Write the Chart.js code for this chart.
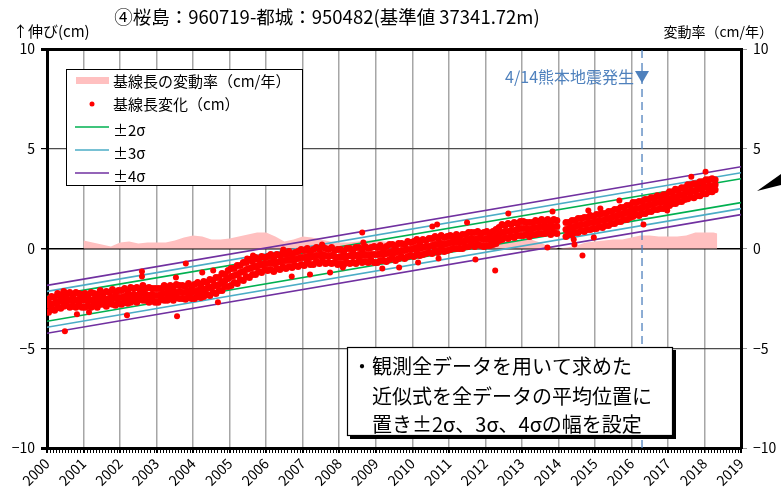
<!DOCTYPE html>
<html lang="ja">
<head>
<meta charset="UTF-8">
<title>桜島-都城 基線長変化</title>
<style>
  body { margin: 0; background: #fff; }
  canvas { display: block; }
</style>
</head>
<body>
<canvas id="baseline" width="781" height="496"></canvas>
<script src="https://cdn.jsdelivr.net/npm/chart.js"></script>
<script>
// monthly band of daily solutions, Jan 2000 .. Apr 2018 (cm)
const monthStart = 2000;
const bandMid = [
  -2.85,-2.8,-2.75,-2.7,-2.65,-2.6,-2.55,-2.6,-2.65,-2.6,-2.55,-2.6,
  -2.6,-2.65,-2.6,-2.55,-2.6,-2.5,-2.5,-2.55,-2.5,-2.45,-2.5,-2.45,
  -2.45,-2.4,-2.45,-2.35,-2.3,-2.35,-2.3,-2.25,-2.3,-2.35,-2.3,-2.35,
  -2.35,-2.3,-2.25,-2.3,-2.2,-2.25,-2.2,-2.15,-2.2,-2.2,-2.15,-2.2,
  -2.15,-2.1,-2.15,-2.05,-2.0,-1.95,-1.9,-1.85,-1.8,-1.7,-1.6,-1.5,
  -1.4,-1.35,-1.3,-1.2,-1.15,-1.05,-1.0,-0.95,-0.9,-0.85,-0.8,-0.75,
  -0.75,-0.7,-0.75,-0.7,-0.65,-0.6,-0.6,-0.55,-0.6,-0.55,-0.5,-0.45,
  -0.45,-0.4,-0.45,-0.4,-0.35,-0.35,-0.3,-0.35,-0.4,-0.35,-0.4,-0.45,
  -0.4,-0.45,-0.4,-0.35,-0.4,-0.35,-0.3,-0.35,-0.3,-0.35,-0.3,-0.3,
  -0.3,-0.25,-0.3,-0.25,-0.2,-0.15,-0.2,-0.15,-0.1,-0.1,-0.05,-0.05,
  0.0,0.05,0.0,0.05,0.1,0.1,0.15,0.2,0.2,0.25,0.2,0.25,
  0.3,0.3,0.35,0.3,0.35,0.4,0.45,0.5,0.45,0.5,0.5,0.45,
  0.5,0.45,0.5,0.6,0.7,0.8,0.85,0.85,0.9,0.9,0.95,1.0,
  1.0,1.0,0.95,1.0,1.05,1.05,1.1,1.05,1.1,1.05,1.1,1.1,
  null,null,0.95,1.0,1.05,1.1,1.15,1.2,1.2,1.25,1.3,1.3,
  1.35,1.4,1.4,1.45,1.5,1.55,1.6,1.65,1.7,1.75,1.8,1.85,
  1.95,2.0,2.0,2.05,2.1,2.15,2.2,2.25,2.3,2.3,2.35,2.4,
  2.5,2.55,2.6,2.65,2.7,2.75,2.85,2.9,2.9,2.95,3.0,3.05,
  3.1,3.15,3.15,3.2
];
const bandHigh = [
  -2.55,-2.4,-2.45,-2.25,-2.4,-2.15,-2.3,-2.2,-2.4,-2.2,-2.25,-2.3,
  -2.25,-2.35,-2.2,-2.25,-2.3,-2.1,-2.25,-2.15,-2.2,-2.05,-2.2,-2.1,
  -2.1,-2.0,-2.15,-1.95,-2.0,-1.95,-2.05,-1.85,-2.0,-1.95,-2.0,-2.0,
  -2.0,-2.0,-1.85,-2.0,-1.85,-1.95,-1.8,-1.85,-1.85,-1.9,-1.75,-1.9,
  -1.8,-1.7,-1.85,-1.65,-1.7,-1.55,-1.6,-1.45,-1.45,-1.25,-1.3,-1.1,
  -1.0,-1.0,-0.85,-0.85,-0.7,-0.7,-0.55,-0.65,-0.45,-0.55,-0.4,-0.45,
  -0.4,-0.3,-0.45,-0.3,-0.35,-0.2,-0.3,-0.15,-0.3,-0.2,-0.15,-0.05,
  -0.1,0.0,-0.15,-0.05,0.05,-0.05,0.1,0.0,-0.05,0.05,-0.1,-0.05,
  -0.05,-0.15,0.0,0.0,-0.1,0.05,0.05,-0.05,0.1,0.0,0.05,0.1,
  0.05,0.15,0.0,0.1,0.2,0.2,0.1,0.25,0.25,0.2,0.35,0.3,
  0.35,0.45,0.3,0.45,0.4,0.5,0.5,0.6,0.5,0.65,0.55,0.6,
  0.65,0.55,0.7,0.6,0.7,0.7,0.8,0.8,0.8,0.85,0.75,0.8,
  0.85,0.75,0.85,0.95,1.05,1.2,1.15,1.25,1.2,1.3,1.25,1.35,
  1.35,1.3,1.3,1.3,1.4,1.35,1.45,1.35,1.45,1.35,1.45,1.4,
  null,null,1.3,1.3,1.4,1.4,1.5,1.5,1.55,1.55,1.65,1.6,
  1.7,1.7,1.75,1.75,1.85,1.85,1.95,1.95,2.05,2.05,2.15,2.15,
  2.3,2.3,2.35,2.35,2.45,2.45,2.55,2.55,2.65,2.6,2.7,2.7,
  2.85,2.85,2.95,2.95,3.05,3.05,3.2,3.2,3.25,3.25,3.35,3.35,
  3.45,3.45,3.5,3.45
];
const bandLow = [
  -3.2,-3.05,-3.1,-2.95,-3.0,-2.9,-2.85,-2.95,-2.9,-2.95,-2.8,-2.95,
  -2.95,-2.9,-2.95,-2.8,-2.95,-2.8,-2.8,-2.9,-2.75,-2.8,-2.85,-2.75,
  -2.8,-2.7,-2.75,-2.7,-2.6,-2.7,-2.55,-2.6,-2.6,-2.7,-2.55,-2.7,
  -2.7,-2.55,-2.6,-2.6,-2.5,-2.6,-2.45,-2.5,-2.5,-2.55,-2.45,-2.5,
  -2.5,-2.4,-2.45,-2.4,-2.3,-2.35,-2.2,-2.25,-2.1,-2.1,-1.9,-1.9,
  -1.85,-1.7,-1.75,-1.55,-1.6,-1.4,-1.45,-1.3,-1.3,-1.15,-1.2,-1.05,
  -1.1,-1.05,-1.15,-1.0,-1.05,-0.9,-1.0,-0.9,-0.95,-0.85,-0.9,-0.8,
  -0.85,-0.7,-0.8,-0.8,-0.65,-0.75,-0.6,-0.75,-0.7,-0.75,-0.7,-0.8,
  -0.75,-0.8,-0.7,-0.75,-0.7,-0.75,-0.6,-0.7,-0.65,-0.7,-0.6,-0.7,
  -0.7,-0.6,-0.6,-0.65,-0.55,-0.45,-0.6,-0.5,-0.4,-0.5,-0.4,-0.35,
  -0.4,-0.25,-0.35,-0.3,-0.25,-0.2,-0.25,-0.1,-0.2,-0.05,-0.15,-0.1,
  -0.05,0.0,0.0,0.0,0.0,0.1,0.1,0.2,0.1,0.2,0.15,0.1,
  0.15,0.15,0.2,0.25,0.4,0.45,0.55,0.5,0.6,0.55,0.65,0.65,
  0.65,0.7,0.6,0.7,0.7,0.75,0.75,0.75,0.8,0.7,0.8,0.75,
  null,null,0.6,0.7,0.7,0.8,0.8,0.9,0.85,0.95,0.95,1.0,
  1.0,1.1,1.05,1.15,1.15,1.25,1.25,1.35,1.35,1.45,1.45,1.55,
  1.6,1.7,1.65,1.75,1.75,1.85,1.85,1.95,1.95,2.0,2.0,2.1,
  2.15,2.25,2.25,2.35,2.35,2.45,2.5,2.6,2.55,2.65,2.65,2.75,
  2.75,2.85,2.85,2.95
];

// isolated points outside the dense band
const outlierYears = [2000.49, 2000.82, 2001.15, 2002.19, 2002.6, 2002.6, 2003.53, 2003.56, 2003.8, 2004.25,
  2004.55, 2004.68, 2005.48, 2005.64, 2006.7, 2007.2, 2007.75, 2008.1, 2009.18, 2007.53,
  2008.66, 2008.63, 2006.47, 2012.27, 2012.63, 2013.84, 2013.7, 2011.5, 2010.68, 2010.55,
  2010.72, 2009.64, 2010.16, 2011.73, 2014.66, 2015.67, 2015.15, 2014.82, 2016.33, 2016.98,
  2017.2, 2017.64, 2018.03, 2014.44, 2014.97, 2014.42];
const outlierValues = [-4.15, -3.3, -3.2, -3.35, -1.15, -1.4, -1.45, -3.4, -0.75, -1.2,
  -1.1, -2.7, -0.5, -0.35, -1.4, -1.3, -1.2, -0.95, -1.0, 0.2,
  0.3, 0.8, -0.05, -1.1, 1.75, 1.85, 0.05, 1.3, 1.2, 1.1,
  -0.5, -0.95, -0.7, -0.55, -0.35, 2.4, 2.0, 1.9, 1.2, 1.9,
  3.0, 3.6, 3.85, 0.2, 0.55, 0.45];

// rate of change (cm/yr), right axis
const rateYears = [2001.0, 2001.0, 2001.25, 2001.5, 2001.75, 2002.0, 2002.25, 2002.5, 2002.75, 2003.0,
  2003.25, 2003.5, 2003.75, 2004.0, 2004.25, 2004.5, 2004.75, 2005.0, 2005.25, 2005.5,
  2005.75, 2006.0, 2006.25, 2006.5, 2006.75, 2007.0, 2007.25, 2007.5, 2007.75, 2008.0,
  2008.25, 2008.5, 2008.75, 2009.0, 2009.25, 2009.5, 2009.75, 2010.0, 2010.25, 2010.5,
  2010.75, 2011.0, 2011.25, 2011.5, 2011.75, 2012.0, 2012.25, 2012.5, 2012.75, 2013.0,
  2013.25, 2013.5, 2013.75, 2014.0, 2014.25, 2014.5, 2014.75, 2015.0, 2015.25, 2015.5,
  2015.75, 2016.0, 2016.25, 2016.5, 2016.75, 2017.0, 2017.25, 2017.5, 2017.75, 2018.0,
  2018.25, 2018.35, 2018.35];
const rateValues = [0, 0.4, 0.3, 0.2, 0.1, 0.3, 0.35, 0.25, 0.3, 0.3,
  0.3, 0.4, 0.55, 0.65, 0.6, 0.45, 0.45, 0.5, 0.6, 0.7,
  0.8, 0.8, 0.6, 0.35, 0.45, 0.6, 0.55, 0.45, 0.35, 0.3,
  0.3, 0.35, 0.4, 0.4, 0.35, 0.3, 0.3, 0.3, 0.3, 0.35,
  0.4, 0.4, 0.35, 0.3, 0.3, 0.3, 0.3, 0.35, 0.4, 0.4,
  0.45, 0.3, 0.1, 0.0, 0.05, 0.15, 0.3, 0.35, 0.4, 0.45,
  0.45, 0.55, 0.65, 0.65, 0.6, 0.6, 0.6, 0.65, 0.8, 0.8,
  0.8, 0.75, 0];

// sigma envelopes around the fitted line
const fitYears = [2000, 2019];
const sigma2Upper = [-2.4, 3.5];
const sigma2Lower = [-3.65, 2.3];
const sigma3Upper = [-2.15, 3.8];
const sigma3Lower = [-3.95, 2.0];
const sigma4Upper = [-1.85, 4.1];
const sigma4Lower = [-4.25, 1.7];

const quakeYear = 2016.29;

const pts = (xs, ys) => xs.map((x, i) => ({ x: x, y: ys[i] }));

const redPoints = [];
[bandMid, bandHigh, bandLow].forEach(arr => {
  arr.forEach((v, i) => {
    if (v !== null) redPoints.push({ x: monthStart + (i + 0.5) / 12, y: v });
  });
});
const bandCount = redPoints.length;
pts(outlierYears, outlierValues).forEach(p => redPoints.push(p));

function envelope(ys, color) {
  return {
    type: 'line', data: pts(fitYears, ys), borderColor: color, borderWidth: 1.6,
    pointRadius: 0, fill: false
  };
}

const FONT = '"Noto Sans CJK JP", "Noto Sans", sans-serif';
Chart.defaults.font.family = FONT;
Chart.defaults.color = '#000';

const minusLabel = v => (v < 0 ? '\u2212' + Math.abs(v) : String(v));

const decor = {
  id: 'decor',
  afterDraw(chart) {
    const c = chart.ctx;
    const xs = chart.scales.x;
    const area = chart.chartArea;
    c.save();

    // monthly ticks under the x axis
    c.strokeStyle = '#000';
    c.lineWidth = 1;
    for (let m = 0; m <= 19 * 12; m++) {
      const px = Math.round(xs.getPixelForValue(2000 + m / 12)) + 0.5;
      c.beginPath();
      c.moveTo(px, area.bottom + 1);
      c.lineTo(px, area.bottom + 5);
      c.stroke();
    }

    // titles
    c.fillStyle = '#000';
    c.textBaseline = 'middle';
    c.textAlign = 'center';
    c.font = '18.5px ' + FONT;
    c.fillText('④桜島：960719-都城：950482(基準値 37341.72m)', 327, 17);
    c.textAlign = 'left';
    c.font = '15px ' + FONT;
    c.fillText('↑伸び(cm)', 13, 31);
    c.textAlign = 'right';
    c.font = '14px ' + FONT;
    c.fillText('変動率（cm/年）', 773, 32);

    // earthquake label
    const qx = xs.getPixelForValue(quakeYear);
    c.fillStyle = '#4f81bd';
    c.font = '16px ' + FONT;
    c.textAlign = 'right';
    c.fillText('4/14熊本地震発生', qx - 8, 77);
    c.beginPath();
    c.moveTo(qx - 7, 71);
    c.lineTo(qx + 7, 71);
    c.lineTo(qx, 83);
    c.closePath();
    c.fill();

    // legend box
    c.fillStyle = '#fff';
    c.fillRect(66, 69, 236, 116);
    c.strokeStyle = '#000';
    c.lineWidth = 1;
    c.strokeRect(66.5, 69.5, 236, 116);
    c.fillStyle = '#ffc0c0';
    c.fillRect(76, 77, 33, 7);
    c.fillStyle = '#ff0000';
    c.beginPath();
    c.arc(92, 104, 2.5, 0, Math.PI * 2);
    c.fill();
    [['#00b050', 127], ['#4bacc6', 150], ['#7030a0', 173]].forEach(r => {
      c.strokeStyle = r[0];
      c.lineWidth = 1.6;
      c.beginPath();
      c.moveTo(75, r[1]);
      c.lineTo(109, r[1]);
      c.stroke();
    });
    c.fillStyle = '#000';
    c.textAlign = 'left';
    c.font = '15px ' + FONT;
    c.fillText('基線長の変動率（cm/年）', 113, 81);
    c.fillText('基線長変化（cm）', 113, 104);
    c.fillText('±2σ', 113, 130);
    c.fillText('±3σ', 113, 153);
    c.fillText('±4σ', 113, 176);

    // note box
    c.fillStyle = '#000';
    c.fillRect(350, 350, 326, 89);
    c.fillStyle = '#fff';
    c.fillRect(347, 347, 326, 89);
    c.strokeStyle = '#000';
    c.lineWidth = 1.2;
    c.strokeRect(347.5, 347.5, 325, 88);
    c.fillStyle = '#000';
    c.font = '20px ' + FONT;
    c.fillText('・', 352, 366);
    c.fillText('観測全データを用いて求めた', 372, 366);
    c.fillText('近似式を全データの平均位置に', 372, 396);
    c.fillText('置き±2σ、3σ、4σの幅を設定', 372, 424);

    // clipped callout edge at the right
    c.beginPath();
    c.moveTo(757, 191);
    c.lineTo(781, 174);
    c.lineTo(781, 185);
    c.closePath();
    c.fill();

    c.restore();
  }
};

new Chart(document.getElementById('baseline'), {
  type: 'scatter',
  data: {
    datasets: [
      {
        label: '基線長変化(cm)', data: redPoints, backgroundColor: '#ff0000',
        borderWidth: 0, pointRadius: ctx => (ctx.dataIndex < bandCount ? 3.5 : 3)
      },
      envelope(sigma2Upper, '#00b050'),
      envelope(sigma2Lower, '#00b050'),
      envelope(sigma3Upper, '#4bacc6'),
      envelope(sigma3Lower, '#4bacc6'),
      envelope(sigma4Upper, '#7030a0'),
      envelope(sigma4Lower, '#7030a0'),
      {
        type: 'line', data: [{ x: quakeYear, y: -10 }, { x: quakeYear, y: 10 }],
        borderColor: '#4f81bd', borderWidth: 1.3, borderDash: [8, 5], pointRadius: 0, fill: false
      },
      {
        type: 'line', label: '基線長の変動率(cm/年)', data: pts(rateYears, rateValues), yAxisID: 'y2',
        backgroundColor: '#ffc0c0', borderWidth: 0, pointRadius: 0, fill: 'origin'
      }
    ]
  },
  options: {
    responsive: false,
    animation: false,
    events: [],
    layout: { padding: { top: 49, left: 0, right: 0, bottom: 0 } },
    plugins: { legend: { display: false }, tooltip: { enabled: false } },
    scales: {
      x: {
        type: 'linear', min: 2000, max: 2019,
        ticks: {
          stepSize: 1, autoSkip: false, minRotation: 45, maxRotation: 45, padding: 2,
          font: { size: 14 }, callback: v => String(v)
        },
        grid: {
          color: ctx => (ctx.tick && (ctx.tick.value === 2000 || ctx.tick.value === 2019)) ? 'rgba(0,0,0,0)' : '#a6a6a6',
          lineWidth: 1.5, tickLength: 5, tickColor: '#000'
        },
        border: { color: '#000', width: 3 },
        afterFit: s => { s.height = 48; }
      },
      y: {
        position: 'left', min: -10, max: 10,
        ticks: { stepSize: 5, padding: 6, font: { size: 14 }, callback: minusLabel },
        grid: {
          color: ctx => {
            const v = ctx.tick ? ctx.tick.value : 1;
            return (v === 0 || Math.abs(v) === 10) ? '#000' : '#4d4d4d';
          },
          lineWidth: ctx => {
            const v = ctx.tick ? ctx.tick.value : 1;
            return Math.abs(v) === 10 ? 3 : (v === 0 ? 1.5 : 1.2);
          },
          tickLength: 6, tickColor: '#000'
        },
        border: { color: '#000', width: 3 },
        afterFit: s => { s.width = 47; }
      },
      y2: {
        position: 'right', min: -10, max: 10,
        ticks: { stepSize: 5, padding: 6, font: { size: 14 }, callback: minusLabel },
        grid: { drawOnChartArea: false, tickLength: 6, tickColor: '#999' },
        border: { color: '#000', width: 3 },
        afterFit: s => { s.width = 40; }
      }
    }
  },
  plugins: [decor]
});
</script>
</body>
</html>
